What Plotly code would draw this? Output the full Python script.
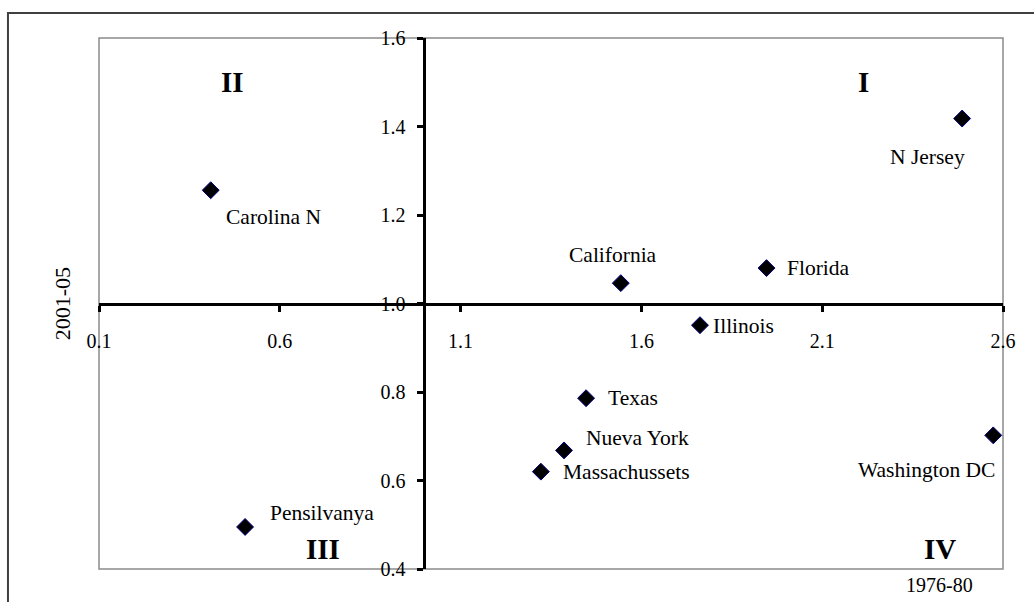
import plotly.graph_objects as go

# Relative indices by state: 1976-80 (x) vs 2001-05 (y)
states = ["Carolina N", "N Jersey", "California", "Florida", "Illinois",
          "Texas", "Nueva York", "Massachussets", "Pensilvanya", "Washington DC"]
idx_1976_80 = [0.409, 2.487, 1.543, 1.946, 1.762, 1.447, 1.386, 1.322, 0.504, 2.573]
idx_2001_05 = [1.256, 1.418, 1.046, 1.080, 0.951, 0.786, 0.668, 0.620, 0.495, 0.702]

# label placement around each point: (xshift, yshift, xanchor)
label_pos = [(63, -27, "center"), (-35, -38, "center"), (-8, 28, "center"),
             (18, 0, "left"), (11, -1, "left"), (20, 0, "left"),
             (20, 12, "left"), (20, 0, "left"), (23, 14, "left"),
             (-67, -35, "center")]

x_ticks = [0.1, 0.6, 1.1, 1.6, 2.1, 2.6]
y_ticks = [0.4, 0.6, 0.8, 1.0, 1.2, 1.4, 1.6]
x_range = [0.1, 2.6]
y_range = [0.4, 1.6]
cross = 1.0

quadrants = [("I", 2.213, 1.5), ("II", 0.468, 1.5), ("III", 0.719, 0.445), ("IV", 2.426, 0.445)]

FONT = "Liberation Serif"

fig = go.Figure()
fig.add_trace(go.Scatter(
    x=idx_1976_80, y=idx_2001_05, mode="markers",
    marker=dict(symbol="diamond", size=13, color="black",
                line=dict(color="#000080", width=1)),
    hoverinfo="text", text=states, showlegend=False,
))

for name, xv, yv, (dx, dy, anc) in zip(states, idx_1976_80, idx_2001_05, label_pos):
    fig.add_annotation(x=xv, y=yv, xref="x", yref="y", text=name, showarrow=False,
                       xshift=dx, yshift=dy, xanchor=anc, yanchor="middle",
                       font=dict(family=FONT, size=21.5, color="black"))

for lab, xv, yv in quadrants:
    fig.add_annotation(x=xv, y=yv, xref="x", yref="y", text="<b>" + lab + "</b>",
                       showarrow=False, xanchor="center", yanchor="middle",
                       font=dict(family=FONT, size=29, color="black"))

# axis titles
fig.add_annotation(x=-0.04, y=0.50, xref="paper", yref="paper", text="2001-05",
                   textangle=-90, showarrow=False, xanchor="center", yanchor="middle",
                   font=dict(family=FONT, size=22, color="black"))
fig.add_annotation(x=0.93, y=-0.03, xref="paper", yref="paper", text="1976-80",
                   showarrow=False, xanchor="center", yanchor="middle",
                   font=dict(family=FONT, size=20, color="black"))

# plot-area frame and outer chart frame
fig.add_shape(type="rect", xref="paper", yref="paper", x0=0, y0=0, x1=1, y1=1,
              line=dict(color="#8a8a8a", width=1.5), layer="below")
fig.add_shape(type="rect", xref="paper", yref="paper", x0=-0.1007, y0=-0.3, x1=1.2, y1=1.047,
              line=dict(color="#404040", width=2), layer="below")

fig.update_xaxes(range=x_range, anchor="free",
                 position=(cross - y_range[0]) / (y_range[1] - y_range[0]),
                 tickmode="array", tickvals=x_ticks, ticktext=[f"{v:.1f}" for v in x_ticks],
                 showline=True, linecolor="black", linewidth=3,
                 ticks="outside", ticklen=6, tickwidth=3, tickcolor="black",
                 ticklabelstandoff=12,
                 showgrid=False, zeroline=False,
                 tickfont=dict(family=FONT, size=20, color="black"))
fig.update_yaxes(range=y_range, anchor="free",
                 position=(cross - x_range[0]) / (x_range[1] - x_range[0]),
                 tickmode="array", tickvals=y_ticks, ticktext=[f"{v:.1f}" for v in y_ticks],
                 showline=True, linecolor="black", linewidth=3,
                 ticks="outside", ticklen=6, tickwidth=3, tickcolor="black",
                 ticklabelstandoff=8,
                 showgrid=False, zeroline=False,
                 tickfont=dict(family=FONT, size=20, color="black"))

fig.update_layout(width=1034, height=602,
                  margin=dict(l=99, r=31, t=38, b=33),
                  paper_bgcolor="white", plot_bgcolor="white",
                  font=dict(family=FONT, color="black"))

fig.write_html("out.html")
